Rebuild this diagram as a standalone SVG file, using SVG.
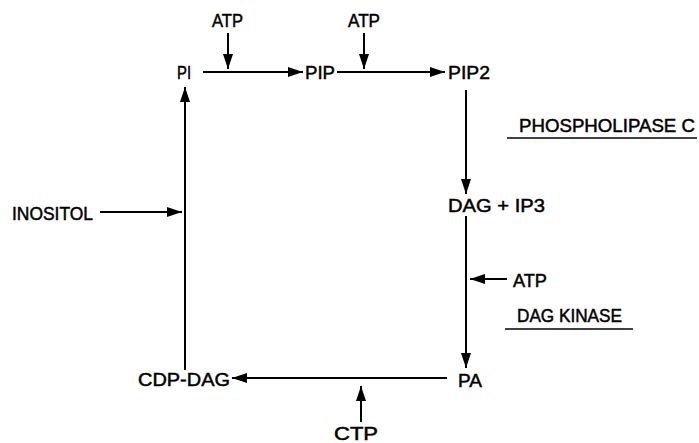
<svg xmlns="http://www.w3.org/2000/svg" width="699" height="443" viewBox="0 0 699 443">
<defs>
<marker id="ah" markerUnits="userSpaceOnUse" markerWidth="16" markerHeight="11" refX="15" refY="5.5" orient="auto">
<path d="M0,0.5 L15,5.5 L0,10.5 z" fill="#000"/>
</marker>
<style>
text{font-family:"Liberation Sans",Arial,sans-serif;font-size:19px;fill:#000;stroke:#000;stroke-width:0.5}
.c line{stroke:#000;stroke-width:2;fill:none}
.c line.a{marker-end:url(#ah)}
.u{stroke:#000;stroke-width:1.6}
</style>
</defs>
<rect width="699" height="443" fill="#fff"/>
<g class="c" id="connectors">
<line class="a" x1="228" y1="33" x2="228" y2="69"/>
<line class="a" x1="364" y1="33" x2="364" y2="69"/>
<line class="a" x1="203" y1="72" x2="303" y2="72"/>
<line class="a" x1="337" y1="72" x2="445" y2="72"/>
<line class="a" x1="466" y1="90" x2="466" y2="194"/>
<line class="a" x1="466" y1="216" x2="466" y2="368"/>
<line class="a" x1="507" y1="279" x2="470" y2="279"/>
<line class="a" x1="447" y1="378" x2="232" y2="378"/>
<line class="a" x1="361" y1="422" x2="361" y2="386"/>
<line class="a" x1="185" y1="370" x2="185" y2="87"/>
<line class="a" x1="100" y1="212" x2="182" y2="212"/>
</g>
<g id="n-atp1"><text x="212" y="27" textLength="31" lengthAdjust="spacingAndGlyphs">ATP</text></g>
<g id="n-atp2"><text x="348" y="27" textLength="32" lengthAdjust="spacingAndGlyphs">ATP</text></g>
<g id="n-pi"><text x="177" y="79" textLength="14" lengthAdjust="spacingAndGlyphs">PI</text></g>
<g id="n-pip"><text x="305" y="79" textLength="30" lengthAdjust="spacingAndGlyphs">PIP</text></g>
<g id="n-pip2"><text x="448" y="79" textLength="42" lengthAdjust="spacingAndGlyphs">PIP2</text></g>
<g id="n-plc"><text x="519" y="132" textLength="176" lengthAdjust="spacingAndGlyphs">PHOSPHOLIPASE C</text>
<line class="u" x1="507" y1="138" x2="697" y2="138"/></g>
<g id="n-dagip3"><text x="448" y="212" textLength="97" lengthAdjust="spacingAndGlyphs">DAG + IP3</text></g>
<g id="n-atp3"><text x="513" y="287" textLength="34" lengthAdjust="spacingAndGlyphs">ATP</text></g>
<g id="n-dagk"><text x="517" y="322" textLength="105" lengthAdjust="spacingAndGlyphs">DAG KINASE</text>
<line class="u" x1="505" y1="329" x2="633" y2="329"/></g>
<g id="n-pa"><text x="458" y="387" textLength="24" lengthAdjust="spacingAndGlyphs">PA</text></g>
<g id="n-cdpdag"><text x="138" y="386" textLength="92" lengthAdjust="spacingAndGlyphs">CDP-DAG</text></g>
<g id="n-ctp"><text x="334" y="440" textLength="44" lengthAdjust="spacingAndGlyphs">CTP</text></g>
<g id="n-inositol"><text x="12" y="220" textLength="81" lengthAdjust="spacingAndGlyphs">INOSITOL</text></g>
</svg>
